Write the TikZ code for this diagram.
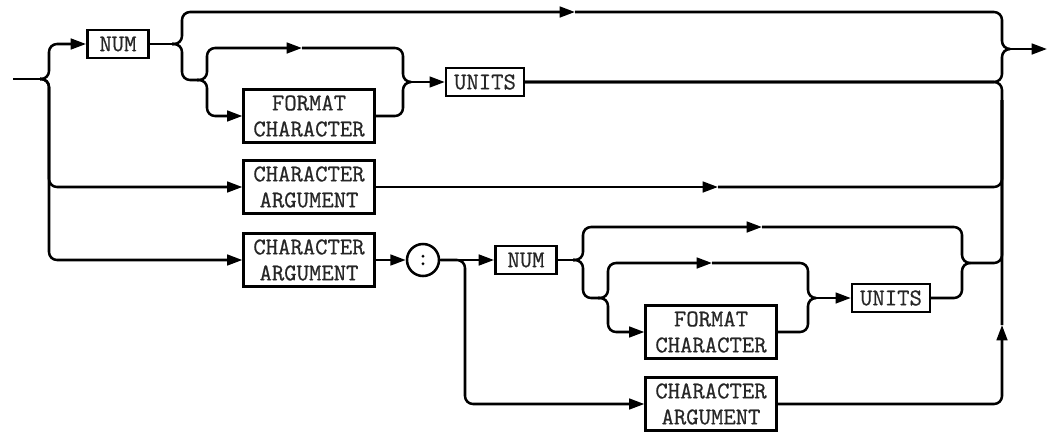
\documentclass[tikz,border=0pt]{standalone}
\usepackage{fontspec}
\newfontfamily\railfont{Latin Modern Mono}[FakeBold=0.7]
\usetikzlibrary{arrows.meta}

\tikzset{
  kw/.style={draw, line width=1.9pt, minimum width=46pt, minimum height=21pt,
    inner xsep=6pt, inner ysep=0pt, text=black!85,
    font=\railfont\bfseries\fontsize{18}{19.5}\selectfont},
  kw2/.style={kw, minimum width=98pt, minimum height=40pt, align=center},
  sep/.style={draw, circle, line width=1.9pt, minimum size=24pt, inner sep=0pt,
    font=\railfont\bfseries\fontsize{18}{19.5}\selectfont},
  rail/.style={line width=1.9pt, rounded corners=6pt},
  railarrow/.style={rail, -{Triangle[length=11.5pt,width=8pt]}},
}

\begin{document}
\begin{tikzpicture}[x=0.75pt, y=-0.75pt]
        \useasboundingbox (0,0) rectangle (1050,433);
        \node[kw] (numA) at (118,44) {NUM};
        \node[kw2] (fmtA) at (309,116) {FORMAT\\CHARACTER};
        \node[kw] (unitsA) at (485,82) {UNITS};
        \node[kw2] (argA) at (309,187) {CHARACTER\\ARGUMENT};
        \node[kw2] (argB) at (309,260) {CHARACTER\\ARGUMENT};
        \node[sep] (colon) at (423,260) {:};
        \node[kw] (numB) at (526,260) {NUM};
        \node[kw2] (fmtB) at (711,332) {FORMAT\\CHARACTER};
        \node[kw] (unitsB) at (891,298) {UNITS};
        \node[kw2] (argC) at (711,404) {CHARACTER\\ARGUMENT};

        \coordinate (start) at (13,79);
        \coordinate (jL) at (40,79);
        \coordinate (j1) at (172,44);
        \coordinate (j2) at (197,80);
        \coordinate (j3) at (411,82);
        \coordinate (jOut) at (1010,49);
        \coordinate (end) at (1047,49);
        \coordinate (aTopA) at (575,12);
        \coordinate (aByA) at (302,48);
        \coordinate (aArgA) at (718,187);
        \coordinate (busJoin) at (1002,100);
        \coordinate (aUp) at (1002,325);
        \coordinate (j5) at (573,260);
        \coordinate (j6) at (970,263);
        \coordinate (j7) at (598,298);
        \coordinate (j8) at (816,298);
        \coordinate (aTopB) at (762,227);
        \coordinate (aByB) at (712,263);

        \draw[rail] (start) -- (jL);
        \draw[railarrow] (jL) -| (49,44) -- (numA);
        \draw[railarrow] (jL) -| (49,187) -- (argA);
        \draw[railarrow] (jL) -| (49,260) -- (argB);
        \draw[rail] (numA) -- (j1);
        \draw[railarrow] (j1) -| (182,12) -- (aTopA);
        \draw[rail] (aTopA) -| (1002,49) -- (jOut);
        \draw[rail] (j1) -| (182,80) -- (j2);
        \draw[railarrow] (j2) -| (207,48) -- (aByA);
        \draw[rail] (aByA) -| (403,82) -- (j3);
        \draw[railarrow] (j2) -| (207,116) -- (fmtA);
        \draw[rail] (fmtA) -| (403,82) -- (j3);
        \draw[railarrow] (j3) -- (unitsA);
        \draw[rail] (unitsA) -| (1002,49) -- (jOut);
        \draw[railarrow] (jOut) -- (end);
        \draw[railarrow] (argA) -- (aArgA);
        \draw[rail] (aArgA) -| (busJoin);
        \draw[railarrow] (argB) -- (colon);
        \draw[railarrow] (colon) -- (numB);
        \draw[railarrow] (colon) -| (465,404) -- (argC);
        \draw[rail] (numB) -- (j5);
        \draw[railarrow] (j5) -| (583,227) -- (aTopB);
        \draw[rail] (aTopB) -| (962,263) -- (j6);
        \draw[rail] (j5) -| (583,298) -- (j7);
        \draw[railarrow] (j7) -| (608,263) -- (aByB);
        \draw[rail] (aByB) -| (808,298) -- (j8);
        \draw[railarrow] (j7) -| (608,332) -- (fmtB);
        \draw[rail] (fmtB) -| (808,298) -- (j8);
        \draw[railarrow] (j8) -- (unitsB);
        \draw[rail] (unitsB) -| (962,263) -- (j6);
        \draw[rail] (j6) -| (busJoin);
        \draw[railarrow] (argC) -| (aUp);
        \draw[rail] (aUp) |- (unitsA);
\end{tikzpicture}
\end{document}
